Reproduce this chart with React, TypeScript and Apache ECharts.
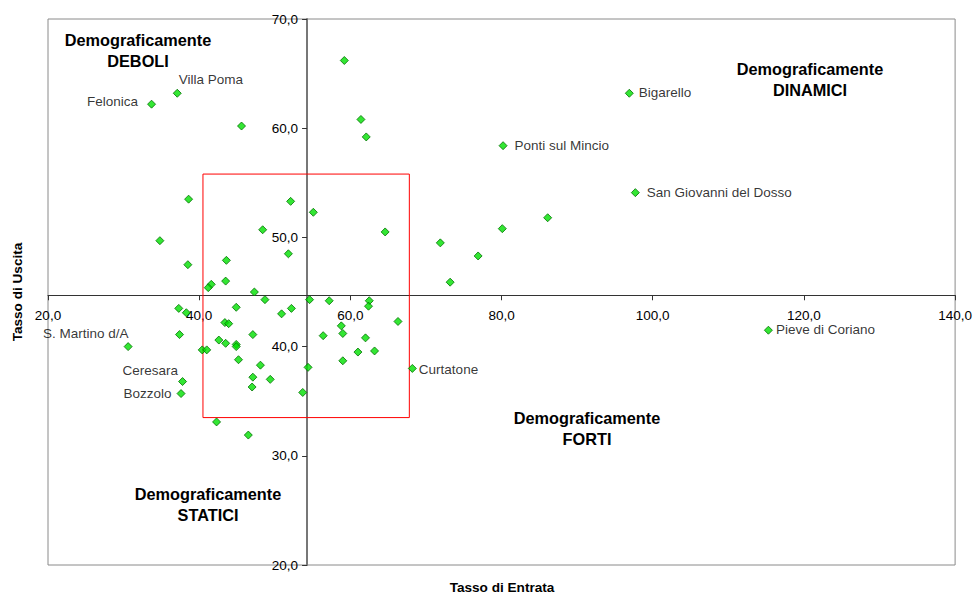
import React, { useEffect, useRef } from "react";
import * as echarts from "echarts";

// Axis ranges / ticks
const X_MIN = 20;
const X_MAX = 140;
const X_STEP = 20;
const Y_MIN = 20;
const Y_MAX = 70;
const Y_STEP = 10;

// Point where the two axes cross (Tasso di Entrata, Tasso di Uscita)
const crossing = [54.2, 44.7];

// Red reference box
const boxEntrata = [40.5, 67.8];
const boxUscita = [33.5, 55.8];

// Labelled municipalities
const namedComuni = [
  "Felonica",
  "Villa Poma",
  "Bigarello",
  "Ponti sul Mincio",
  "San Giovanni del Dosso",
  "Pieve di Coriano",
  "S. Martino d/A",
  "Ceresara",
  "Bozzolo",
  "Curtatone",
];
const namedEntrata = [33.7, 37.1, 96.9, 80.2, 97.7, 115.3, 30.6, 37.8, 37.6, 68.2];
const namedUscita = [62.2, 63.2, 63.2, 58.4, 54.1, 41.5, 40.0, 36.8, 35.7, 38.0];

// Other municipalities
const otherEntrata = [
  45.6, 38.6, 52.1, 59.2, 61.4, 62.1, 55.1, 34.8, 48.4, 51.8,
  38.5, 43.6, 43.5, 41.6, 41.2, 47.3, 48.7, 54.6, 37.3, 38.3,
  44.9, 52.2, 50.9, 43.4, 43.9, 37.4, 47.1, 56.4, 42.6, 43.5,
  44.9, 44.9, 40.4, 41.0, 45.2, 54.4, 48.1, 47.1, 49.4, 47.0,
  53.7, 42.3, 46.5, 64.6, 86.1, 80.1, 71.9, 76.9, 73.2, 57.2,
  62.5, 62.4, 66.3, 58.8, 59.0, 62.0, 61.0, 63.2, 59.0,
];
const otherUscita = [
  60.2, 53.5, 53.3, 66.2, 60.8, 59.2, 52.3, 49.7, 50.7, 48.5,
  47.5, 47.9, 46.0, 45.7, 45.4, 45.0, 44.3, 44.3, 43.5, 43.1,
  43.6, 43.5, 43.0, 42.2, 42.1, 41.1, 41.1, 41.0, 40.6, 40.3,
  40.2, 40.0, 39.7, 39.7, 38.8, 38.1, 38.3, 37.2, 37.0, 36.3,
  35.8, 33.1, 31.9, 50.5, 51.8, 50.8, 49.5, 48.3, 45.9, 44.2,
  44.2, 43.7, 42.3, 41.9, 41.2, 40.8, 39.5, 39.6, 38.7,
];

// Label placement (style only)
const labelPlacement: Record<string, { position: string; offset: number[] }> = {
  Felonica: { position: "left", offset: [-4, -3] },
  "Villa Poma": { position: "right", offset: [-8, -14] },
  Bigarello: { position: "right", offset: [0, -1] },
  "Ponti sul Mincio": { position: "right", offset: [2, 0] },
  "San Giovanni del Dosso": { position: "right", offset: [2, 0] },
  "Pieve di Coriano": { position: "right", offset: [-2, -0.5] },
  "S. Martino d/A": { position: "left", offset: [10, -13] },
  Ceresara: { position: "left", offset: [5, -11] },
  Bozzolo: { position: "left", offset: [0, 0] },
  Curtatone: { position: "right", offset: [-3, 1] },
};

const FONT = '"Liberation Sans", Arial, Helvetica, sans-serif';
const W = 975;
const H = 593;
const GRID = { left: 48, right: 18, top: 19, bottom: 28 };
const TXT = "#000000";

const fmt = (v: number) => v.toFixed(1).replace(".", ",");

export default function App() {
  const ref = useRef<HTMLDivElement>(null);

  useEffect(() => {
    if (!ref.current) return;
    const chart = echarts.init(ref.current, undefined, { renderer: "svg" });

    const plotW = W - GRID.left - GRID.right;
    const plotH = H - GRID.top - GRID.bottom;
    const xAxisOffset = -((crossing[1] - Y_MIN) / (Y_MAX - Y_MIN)) * plotH;
    const yAxisOffset = -((crossing[0] - X_MIN) / (X_MAX - X_MIN)) * plotW;

    const symbolStyle = {
      color: "#00e000",
      borderColor: "#007000",
      borderWidth: 1,
    };

    const namedData = namedComuni.map((n, i) => ({
      name: n,
      value: [namedEntrata[i], namedUscita[i]],
      label: {
        show: true,
        position: labelPlacement[n].position,
        offset: labelPlacement[n].offset,
        distance: 5,
        formatter: "{b}",
        fontSize: 13.5,
        lineHeight: 13,
        fontFamily: FONT,
        color: TXT,
      },
    }));

    const otherData = otherEntrata.map((x, i) => [x, otherUscita[i]]);

    const quadrant = (text: string, x: number, y: number) => ({
      type: "text",
      x,
      y,
      z: 10,
      style: {
        text,
        fill: TXT,
        font: `bold 16.3px ${FONT}`,
        textAlign: "center",
        textVerticalAlign: "middle",
        lineHeight: 21,
      },
    });

    chart.setOption({
      animation: false,
      backgroundColor: "#ffffff",
      grid: {
        left: GRID.left,
        right: GRID.right,
        top: GRID.top,
        bottom: GRID.bottom,
        show: true,
        borderColor: "#8a8a8a",
        borderWidth: 1,
        backgroundColor: "transparent",
      },
      xAxis: {
        type: "value",
        min: X_MIN,
        max: X_MAX,
        interval: X_STEP,
        position: "bottom",
        offset: xAxisOffset,
        axisLine: { show: true, onZero: false, lineStyle: { color: "#333333", width: 1 } },
        axisTick: { show: true, length: 5, lineStyle: { color: "#333333" } },
        axisLabel: {
          formatter: fmt,
          fontSize: 13.5,
          lineHeight: 13,
          fontFamily: FONT,
          color: TXT,
          margin: 14,
          showMinLabel: true,
          showMaxLabel: true,
        },
        splitLine: { show: false },
      },
      yAxis: {
        type: "value",
        min: Y_MIN,
        max: Y_MAX,
        interval: Y_STEP,
        position: "left",
        offset: yAxisOffset,
        axisLine: { show: true, onZero: false, lineStyle: { color: "#777777", width: 2 } },
        axisTick: { show: true, length: 5, lineStyle: { color: "#333333" } },
        axisLabel: {
          formatter: fmt,
          fontSize: 13.5,
          fontFamily: FONT,
          color: TXT,
          margin: 9,
          showMinLabel: true,
          showMaxLabel: true,
        },
        splitLine: { show: false },
      },
      series: [
        {
          type: "scatter",
          symbol: "diamond",
          symbolSize: 8,
          itemStyle: symbolStyle,
          data: otherData,
          z: 3,
          markArea: {
            silent: true,
            itemStyle: {
              color: "rgba(0,0,0,0)",
              borderColor: "#ff0000",
              borderWidth: 1,
            },
            data: [
              [
                { coord: [boxEntrata[0], boxUscita[1]] },
                { coord: [boxEntrata[1], boxUscita[0]] },
              ],
            ],
          },
        },
        {
          type: "scatter",
          symbol: "diamond",
          symbolSize: 8,
          itemStyle: symbolStyle,
          data: namedData,
          z: 4,
        },
      ],
      graphic: [
        quadrant("Demograficamente\nDEBOLI", 138, 50),
        quadrant("Demograficamente\nDINAMICI", 810, 79),
        quadrant("Demograficamente\nFORTI", 587, 428),
        quadrant("Demograficamente\nSTATICI", 208, 504),
        {
          type: "text",
          x: 502,
          y: 587,
          style: {
            text: "Tasso di Entrata",
            fill: TXT,
            font: `bold 13.6px ${FONT}`,
            textAlign: "center",
            textVerticalAlign: "middle",
          },
        },
        {
          type: "text",
          x: 17,
          y: 292,
          rotation: Math.PI / 2,
          style: {
            text: "Tasso di Uscita",
            fill: TXT,
            font: `bold 13.6px ${FONT}`,
            textAlign: "center",
            textVerticalAlign: "middle",
          },
        },
      ],
    });

    return () => chart.dispose();
  }, []);

  return (
    <div
      ref={ref}
      style={{ position: "fixed", left: 0, top: 0, width: W, height: H }}
    />
  );
}
